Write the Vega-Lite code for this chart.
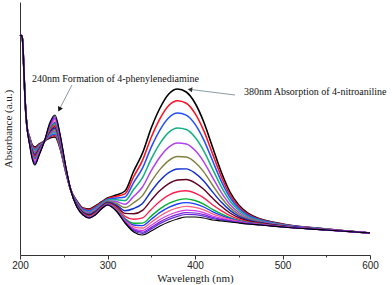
{
 "$schema": "https://vega.github.io/schema/vega-lite/v6.json",
 "width": 350, "height": 253,
 "autosize": "none",
 "padding": {"left": 20, "top": 2, "right": 22, "bottom": 30},
 "background": "white",
 "config": {"view": {"stroke": null}, "font": "Liberation Serif"},
 "datasets": {
  "spectra": [
   {"w":200,"c0":220,"c1":220,"c2":220,"c3":220,"c4":220,"c5":220,"c6":220,"c7":220,"c8":220,"c9":220,"c10":220,"c11":220,"c12":220,"c13":220,"c14":220,"c15":220},
   {"w":202,"c0":219,"c1":219,"c2":219,"c3":219,"c4":219,"c5":219,"c6":219,"c7":219,"c8":219,"c9":219,"c10":219,"c11":219,"c12":219,"c13":219,"c14":219,"c15":219},
   {"w":203,"c0":214,"c1":214,"c2":214,"c3":214,"c4":214,"c5":214,"c6":214,"c7":214,"c8":214,"c9":214,"c10":214,"c11":214,"c12":214,"c13":214,"c14":214,"c15":214},
   {"w":204,"c0":195,"c1":195,"c2":195,"c3":195,"c4":195,"c5":195,"c6":195,"c7":195,"c8":195,"c9":195,"c10":195,"c11":195,"c12":195,"c13":195,"c14":195,"c15":195},
   {"w":205,"c0":172,"c1":172,"c2":172,"c3":172,"c4":172,"c5":172,"c6":172,"c7":172,"c8":172,"c9":172,"c10":172,"c11":172,"c12":172,"c13":172,"c14":172,"c15":172},
   {"w":206,"c0":152,"c1":152,"c2":152,"c3":152,"c4":152,"c5":152,"c6":152,"c7":152,"c8":152,"c9":152,"c10":152,"c11":152,"c12":152,"c13":152,"c14":152,"c15":152},
   {"w":208,"c0":128,"c1":128,"c2":128,"c3":128,"c4":128,"c5":128,"c6":128,"c7":128,"c8":128,"c9":128,"c10":128,"c11":128,"c12":128,"c13":128,"c14":128,"c15":128},
   {"w":211,"c0":118,"c1":117.5,"c2":116.9,"c3":116.4,"c4":115.9,"c5":115.3,"c6":114.8,"c7":114.3,"c8":113.7,"c9":113.2,"c10":112.7,"c11":112.1,"c12":111.6,"c13":111.1,"c14":110.5,"c15":110},
   {"w":214,"c0":110,"c1":109.1,"c2":108.1,"c3":107.2,"c4":106.3,"c5":105.3,"c6":104.4,"c7":103.5,"c8":102.5,"c9":101.6,"c10":100.7,"c11":99.7,"c12":98.8,"c13":97.9,"c14":96.9,"c15":96},
   {"w":217,"c0":108,"c1":106.8,"c2":105.6,"c3":104.4,"c4":103.2,"c5":102,"c6":100.8,"c7":99.6,"c8":98.4,"c9":97.2,"c10":96,"c11":94.8,"c12":93.6,"c13":92.4,"c14":91.2,"c15":90},
   {"w":222,"c0":111,"c1":110.3,"c2":109.5,"c3":108.8,"c4":108.1,"c5":107.3,"c6":106.6,"c7":105.9,"c8":105.1,"c9":104.4,"c10":103.7,"c11":102.9,"c12":102.2,"c13":101.5,"c14":100.7,"c15":100},
   {"w":228,"c0":114,"c1":114,"c2":114,"c3":114,"c4":114,"c5":114,"c6":114,"c7":114,"c8":114,"c9":114,"c10":114,"c11":114,"c12":114,"c13":114,"c14":114,"c15":114},
   {"w":234,"c0":117,"c1":118,"c2":119,"c3":120,"c4":121,"c5":122,"c6":123,"c7":124,"c8":125,"c9":126,"c10":127,"c11":128,"c12":129,"c13":130,"c14":131,"c15":132},
   {"w":240,"c0":118,"c1":119.5,"c2":120.9,"c3":122.4,"c4":123.9,"c5":125.3,"c6":126.8,"c7":128.3,"c8":129.7,"c9":131.2,"c10":132.7,"c11":134.1,"c12":135.6,"c13":137.1,"c14":138.5,"c15":140},
   {"w":246,"c0":106,"c1":106.9,"c2":107.9,"c3":108.8,"c4":109.7,"c5":110.7,"c6":111.6,"c7":112.5,"c8":113.5,"c9":114.4,"c10":115.3,"c11":116.3,"c12":117.2,"c13":118.1,"c14":119.1,"c15":120},
   {"w":252,"c0":84,"c1":84.4,"c2":84.8,"c3":85.2,"c4":85.6,"c5":86,"c6":86.4,"c7":86.8,"c8":87.2,"c9":87.6,"c10":88,"c11":88.4,"c12":88.8,"c13":89.2,"c14":89.6,"c15":90},
   {"w":258,"c0":65,"c1":65,"c2":65,"c3":65,"c4":65,"c5":65,"c6":65,"c7":65,"c8":65,"c9":65,"c10":65,"c11":65,"c12":65,"c13":65,"c14":65,"c15":65},
   {"w":265,"c0":54,"c1":53.5,"c2":52.9,"c3":52.2,"c4":51.5,"c5":50.9,"c6":50.3,"c7":49.8,"c8":49.3,"c9":48.9,"c10":48.7,"c11":48.5,"c12":48.3,"c13":48.2,"c14":48.1,"c15":48},
   {"w":272,"c0":47,"c1":46.4,"c2":45.7,"c3":44.9,"c4":44.1,"c5":43.4,"c6":42.7,"c7":42.1,"c8":41.5,"c9":41,"c10":40.8,"c11":40.6,"c12":40.4,"c13":40.2,"c14":40.1,"c15":40},
   {"w":279,"c0":46,"c1":45.2,"c2":44.3,"c3":43.3,"c4":42.3,"c5":41.3,"c6":40.5,"c7":39.7,"c8":38.9,"c9":38.3,"c10":38,"c11":37.8,"c12":37.5,"c13":37.3,"c14":37.2,"c15":37},
   {"w":286,"c0":49,"c1":48.2,"c2":47.3,"c3":46.3,"c4":45.3,"c5":44.3,"c6":43.5,"c7":42.7,"c8":41.9,"c9":41.3,"c10":41,"c11":40.8,"c12":40.5,"c13":40.3,"c14":40.2,"c15":40},
   {"w":293,"c0":53,"c1":52.4,"c2":51.7,"c3":50.9,"c4":50.1,"c5":49.4,"c6":48.7,"c7":48.1,"c8":47.5,"c9":47,"c10":46.8,"c11":46.6,"c12":46.4,"c13":46.2,"c14":46.1,"c15":46},
   {"w":300,"c0":57,"c1":56.4,"c2":55.7,"c3":54.9,"c4":54.1,"c5":53.4,"c6":52.7,"c7":52.1,"c8":51.5,"c9":51,"c10":50.8,"c11":50.6,"c12":50.4,"c13":50.2,"c14":50.1,"c15":50},
   {"w":310,"c0":60,"c1":58.6,"c2":57,"c3":55.2,"c4":53.4,"c5":51.7,"c6":50.2,"c7":48.8,"c8":47.4,"c9":46.3,"c10":45.8,"c11":45.4,"c12":44.9,"c13":44.6,"c14":44.3,"c15":44},
   {"w":320,"c0":64,"c1":61.1,"c2":58.1,"c3":54.4,"c4":50.7,"c5":47.4,"c6":44.3,"c7":41.6,"c8":38.7,"c9":36.6,"c10":35.7,"c11":34.7,"c12":33.8,"c13":33.1,"c14":32.6,"c15":32},
   {"w":330,"c0":84,"c1":78.5,"c2":72.7,"c3":65.7,"c4":58.7,"c5":52.3,"c6":46.5,"c7":41.3,"c8":35.8,"c9":31.8,"c10":30,"c11":28.2,"c12":26.4,"c13":25.1,"c14":24.2,"c15":23},
   {"w":340,"c0":102,"c1":94.6,"c2":86.8,"c3":77.4,"c4":68,"c5":59.4,"c6":51.6,"c7":44.6,"c8":37.2,"c9":31.9,"c10":29.4,"c11":27,"c12":24.5,"c13":22.9,"c14":21.6,"c15":20},
   {"w":350,"c0":127,"c1":117.7,"c2":107.9,"c3":96.1,"c4":84.3,"c5":73.4,"c6":63.7,"c7":54.9,"c8":45.6,"c9":38.9,"c10":35.8,"c11":32.8,"c12":29.7,"c13":27.6,"c14":26.1,"c15":24},
   {"w":360,"c0":147,"c1":136.4,"c2":125.2,"c3":111.6,"c4":98,"c5":85.6,"c6":74.4,"c7":64.4,"c8":53.8,"c9":46.1,"c10":42.6,"c11":39,"c12":35.5,"c13":33.1,"c14":31.4,"c15":29},
   {"w":370,"c0":161,"c1":149.5,"c2":137.3,"c3":122.6,"c4":107.9,"c5":94.4,"c6":82.3,"c7":71.4,"c8":59.9,"c9":51.6,"c10":47.7,"c11":43.9,"c12":40,"c13":37.5,"c14":35.6,"c15":33},
   {"w":380,"c0":166,"c1":154.3,"c2":142,"c3":127,"c4":112,"c5":98.4,"c6":86,"c7":75,"c8":63.3,"c9":54.9,"c10":51,"c11":47.1,"c12":43.2,"c13":40.6,"c14":38.6,"c15":36},
   {"w":390,"c0":163,"c1":151.8,"c2":139.9,"c3":125.5,"c4":111.1,"c5":98,"c6":86.1,"c7":75.5,"c8":64.3,"c9":56.1,"c10":52.4,"c11":48.6,"c12":44.9,"c13":42.4,"c14":40.5,"c15":38},
   {"w":400,"c0":152,"c1":141.7,"c2":130.9,"c3":117.8,"c4":104.7,"c5":92.7,"c6":81.9,"c7":72.2,"c8":61.9,"c9":54.5,"c10":51.1,"c11":47.7,"c12":44.3,"c13":42,"c14":40.3,"c15":38},
   {"w":410,"c0":133,"c1":124.4,"c2":115.2,"c3":104.2,"c4":93.2,"c5":83.1,"c6":74,"c7":65.8,"c8":57.2,"c9":50.9,"c10":48,"c11":45.2,"c12":42.3,"c13":40.4,"c14":38.9,"c15":37},
   {"w":420,"c0":108,"c1":101.4,"c2":94.5,"c3":86.1,"c4":77.7,"c5":70,"c6":63.1,"c7":56.9,"c8":50.3,"c9":45.6,"c10":43.4,"c11":41.2,"c12":39,"c13":37.6,"c14":36.5,"c15":35},
   {"w":430,"c0":83,"c1":78.6,"c2":73.9,"c3":68.3,"c4":62.7,"c5":57.5,"c6":52.9,"c7":48.7,"c8":44.3,"c9":41.1,"c10":39.6,"c11":38.2,"c12":36.7,"c13":35.7,"c14":35,"c15":34},
   {"w":440,"c0":63,"c1":60.3,"c2":57.5,"c3":54,"c4":50.6,"c5":47.4,"c6":44.6,"c7":42,"c8":39.3,"c9":37.4,"c10":36.5,"c11":35.6,"c12":34.7,"c13":34.1,"c14":33.6,"c15":33},
   {"w":450,"c0":50,"c1":48.4,"c2":46.7,"c3":44.6,"c4":42.5,"c5":40.6,"c6":38.9,"c7":37.4,"c8":35.8,"c9":34.6,"c10":34.1,"c11":33.5,"c12":33,"c13":32.6,"c14":32.4,"c15":32},
   {"w":460,"c0":42,"c1":41,"c2":40,"c3":38.7,"c4":37.4,"c5":36.3,"c6":35.2,"c7":34.3,"c8":33.3,"c9":32.6,"c10":32.3,"c11":31.9,"c12":31.6,"c13":31.4,"c14":31.2,"c15":31},
   {"w":475,"c0":36,"c1":35.5,"c2":34.9,"c3":34.2,"c4":33.5,"c5":32.9,"c6":32.3,"c7":31.8,"c8":31.3,"c9":30.9,"c10":30.7,"c11":30.5,"c12":30.3,"c13":30.2,"c14":30.1,"c15":30},
   {"w":500,"c0":31,"c1":30.7,"c2":30.4,"c3":30.1,"c4":29.8,"c5":29.4,"c6":29.2,"c7":28.9,"c8":28.6,"c9":28.4,"c10":28.3,"c11":28.3,"c12":28.2,"c13":28.1,"c14":28.1,"c15":28},
   {"w":550,"c0":26,"c1":25.9,"c2":25.8,"c3":25.7,"c4":25.6,"c5":25.5,"c6":25.4,"c7":25.3,"c8":25.2,"c9":25.1,"c10":25.1,"c11":25.1,"c12":25.1,"c13":25,"c14":25,"c15":25},
   {"w":600,"c0":22,"c1":22,"c2":22,"c3":22,"c4":22,"c5":22,"c6":22,"c7":22,"c8":22,"c9":22,"c10":22,"c11":22,"c12":22,"c13":22,"c14":22,"c15":22}
  ],
  "labels": [
   {"x": 213.7, "y": 176, "t": "240nm Formation of 4-phenylenediamine"},
   {"x": 456, "y": 163, "t": "380nm Absorption of 4-nitroaniline"}
  ],
  "arrows": [
   {"x1": 259.4, "y1": 170, "x2": 245.0, "y2": 145.7},
   {"x1": 445.7, "y1": 160, "x2": 394.3, "y2": 165.6}
  ],
  "heads": [
   {"x": 245.0, "y": 145.7, "id": "a"},
   {"x": 394.3, "y": 165.6, "id": "b"}
  ]
 },
 "encoding": {
  "x": {"type": "quantitative", "title": "Wavelength (nm)", "scale": {"domain": [200, 600], "nice": false, "zero": false},
    "axis": {"values": [200,250,300,350,400,450,500,550,600],
      "labelExpr": "datum.value % 100 === 0 ? datum.label : ''",
      "labelFlush": false, "labelOverlap": false,
      "tickSize": {"condition": {"test": "datum.value % 100 === 0", "value": 4}, "value": 2},
      "grid": false, "domainColor": "#333", "tickColor": "#333",
      "labelFont": "Liberation Sans", "labelFontSize": 10, "labelColor": "#222", "labelPadding": 1,
      "titleFont": "Liberation Serif", "titleFontSize": 11, "titleFontWeight": "normal", "titleColor": "#222", "titlePadding": 2}},
  "y": {"type": "quantitative", "title": "Absorbance (a.u.)", "scale": {"domain": [0, 253], "nice": false, "zero": false},
    "axis": {"ticks": false, "labels": false, "grid": false, "domainColor": "#333",
      "titleFont": "Liberation Serif", "titleFontSize": 11, "titleFontWeight": "normal", "titleColor": "#222", "titlePadding": 7}}
 },
 "layer": [
  {
   "data": {"name": "spectra"},
   "transform": [{"fold": ["c0","c1","c2","c3","c4","c5","c6","c7","c8","c9","c10","c11","c12","c13","c14","c15"], "as": ["k", "a"]}],
   "mark": {"type": "line", "interpolate": "monotone"},
   "encoding": {
    "x": {"field": "w"},
    "y": {"field": "a"},
    "color": {"field": "k", "type": "nominal", "legend": null,
      "scale": {"domain": ["c0","c1","c2","c3","c4","c5","c6","c7","c8","c9","c10","c11","c12","c13","c14","c15"],
        "range": ["#000000","#ff1020","#2050ff","#10b080","#b040f0","#808040","#1030d0","#600020","#ff2050","#00b030","#1a3cff","#ff6080","#d040e0","#8020e0","#6030d0","#000000"]}},
    "strokeWidth": {"field": "k", "type": "nominal", "legend": null,
      "scale": {"domain": ["c0","c1","c2","c3","c4","c5","c6","c7","c8","c9","c10","c11","c12","c13","c14","c15"],
        "range": [1.6,1.2,1.2,1.2,1.2,1.2,1.2,1.2,1.2,1.2,1.2,1.2,1.2,1.4,1.4,2.2]}}
   }
  },
  {
   "data": {"name": "arrows"},
   "mark": {"type": "rule", "color": "#8c9ba5", "strokeWidth": 1},
   "encoding": {
    "x": {"field": "x1"},
    "y": {"field": "y1"},
    "x2": {"field": "x2"},
    "y2": {"field": "y2"}
   }
  },
  {
   "data": {"name": "heads"},
   "transform": [{"filter": "datum.id === 'a'"}],
   "mark": {"type": "point", "shape": "triangle-up", "angle": 207, "filled": true, "color": "#111111", "opacity": 1, "size": 30},
   "encoding": {"x": {"field": "x"}, "y": {"field": "y"}}
  },
  {
   "data": {"name": "heads"},
   "transform": [{"filter": "datum.id === 'b'"}],
   "mark": {"type": "point", "shape": "triangle-up", "angle": 277, "filled": true, "color": "#333333", "opacity": 1, "size": 26},
   "encoding": {"x": {"field": "x"}, "y": {"field": "y"}}
  },
  {
   "data": {"name": "labels"},
   "mark": {"type": "text", "align": "left", "baseline": "middle", "font": "Liberation Serif", "fontSize": 10, "color": "#111111"},
   "encoding": {
    "x": {"field": "x"},
    "y": {"field": "y"},
    "text": {"field": "t"}
   }
  }
 ]
}
